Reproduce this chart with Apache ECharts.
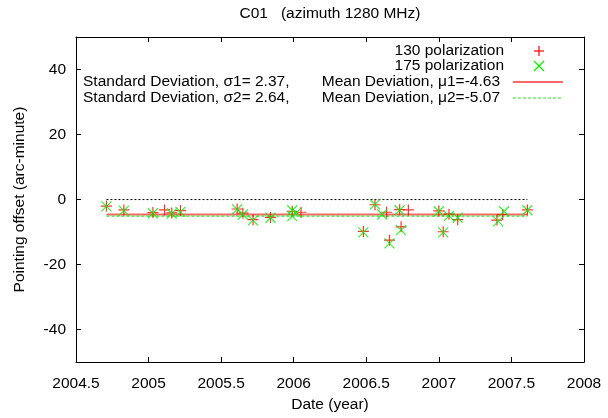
<!DOCTYPE html>
<html>
<head>
<meta charset="utf-8">
<script src="https://cdn.jsdelivr.net/npm/echarts@6/dist/echarts.min.js"></script>
<style>html,body{margin:0;padding:0;background:#fff}#c{width:608px;height:418px}</style>
</head>
<body>
<div id="c"></div>
<script>
// ---- data ----
const dates130 = [2004.71, 2004.83, 2005.03, 2005.11, 2005.16, 2005.22, 2005.61, 2005.65, 2005.72, 2005.84, 2005.99, 2006.05, 2006.48, 2006.56, 2006.64, 2006.66, 2006.73, 2006.74, 2006.79, 2007.00, 2007.03, 2007.07, 2007.13, 2007.40, 2007.44, 2007.61];
const offsets130 = [-2.0, -3.2, -4.0, -3.2, -4.1, -3.4, -2.9, -4.2, -6.2, -5.5, -3.6, -3.9, -9.8, -1.6, -3.9, -12.5, -3.1, -8.4, -3.2, -3.5, -9.9, -4.5, -6.2, -6.3, -4.6, -3.2];
const dates175 = [2004.71, 2004.83, 2005.03, 2005.16, 2005.22, 2005.61, 2005.65, 2005.72, 2005.84, 2005.99, 2005.99, 2006.02, 2006.48, 2006.56, 2006.61, 2006.66, 2006.73, 2006.74, 2007.00, 2007.03, 2007.07, 2007.13, 2007.41, 2007.45, 2007.61];
const offsets175 = [-2.1, -3.4, -4.2, -4.3, -3.8, -3.0, -4.6, -6.4, -5.6, -3.3, -5.1, -4.0, -10.1, -1.5, -4.6, -13.5, -3.3, -9.4, -3.6, -10.1, -5.0, -5.6, -6.7, -3.6, -3.3];
const mean1 = -4.63, mean2 = -5.07;
const sigma1 = 2.37, sigma2 = 2.64;
const xTicks = [2004.5, 2005, 2005.5, 2006, 2006.5, 2007, 2007.5, 2008];
const yTicks = [-40, -20, 0, 20, 40];
const seriesNames = ['130 polarization', '175 polarization'];

// ---- chart ----
const FONT = "'Liberation Sans', Arial, Helvetica, sans-serif";
const FS = 15.5;
const chart = echarts.init(document.getElementById('c'), null, {renderer: 'canvas'});
const allDates = dates130.concat(dates175);
const x0 = Math.min.apply(null, allDates), x1 = Math.max.apply(null, allDates);
const PLUS = 'path://M5,0L5,10M0,5L10,5';
const CROSS = 'path://M0,0L10,10M10,0L0,10';
const tickStyle = {show: true, inside: true, length: 5, lineStyle: {color: '#000', width: 1}};

const GL = 76, GR = 584, GT = 37, GB = 364;
const legendX = 539;

chart.setOption({
  animation: false,
  grid: {left: GL, right: 608 - GR, top: GT, bottom: 418 - GB, containLabel: false},
  xAxis: [{
    type: 'value', min: 2004.5, max: 2008, interval: 0.5, position: 'bottom',
    name: 'Date (year)', nameLocation: 'middle', nameGap: 34,
    nameTextStyle: {fontFamily: FONT, fontSize: FS, color: '#000'},
    axisLine: {show: true, onZero: false, lineStyle: {color: '#000', width: 1}},
    axisTick: Object.assign({customValues: xTicks}, tickStyle),
    axisLabel: {customValues: xTicks, margin: 14, fontFamily: FONT, fontSize: FS, color: '#000', formatter: v => String(v)},
    splitLine: {show: false}
  }, {
    type: 'value', min: 2004.5, max: 2008, interval: 0.5, position: 'top',
    axisLine: {show: true, onZero: false, lineStyle: {color: '#000', width: 1}},
    axisTick: Object.assign({customValues: xTicks}, tickStyle),
    axisLabel: {show: false}, splitLine: {show: false}
  }],
  yAxis: [{
    type: 'value', min: -50, max: 50, interval: 10, position: 'left',
    name: 'Pointing offset (arc-minute)', nameLocation: 'middle', nameGap: 48, nameRotate: 90,
    nameTextStyle: {fontFamily: FONT, fontSize: FS, color: '#000'},
    axisLine: {show: true, onZero: false, lineStyle: {color: '#000', width: 1}},
    axisTick: Object.assign({customValues: yTicks}, tickStyle),
    axisLabel: {customValues: yTicks, margin: 10, fontFamily: FONT, fontSize: FS, color: '#000'},
    splitLine: {show: false}
  }, {
    type: 'value', min: -50, max: 50, interval: 10, position: 'right',
    axisLine: {show: true, onZero: false, lineStyle: {color: '#000', width: 1}},
    axisTick: Object.assign({customValues: yTicks}, tickStyle),
    axisLabel: {show: false}, splitLine: {show: false}
  }],
  series: [
    {
      type: 'line', name: 'zero', xAxisIndex: 0, yAxisIndex: 0,
      data: [[x0, 0], [x1, 0]], symbol: 'none', silent: true,
      lineStyle: {color: '#000', width: 1, type: [2, 2]}, z: 1
    },
    {
      type: 'line', name: 'Mean Deviation, \u03bc1=' + mean1.toFixed(2), xAxisIndex: 0, yAxisIndex: 0,
      data: [[x0, mean1], [x1, mean1]], symbol: 'none', silent: true,
      lineStyle: {color: 'rgba(255,0,0,0.6)', width: 2}, z: 2
    },
    {
      type: 'line', name: 'Mean Deviation, \u03bc2=' + mean2.toFixed(2), xAxisIndex: 0, yAxisIndex: 0,
      data: [[x0, mean2], [x1, mean2]], symbol: 'none', silent: true,
      lineStyle: {color: '#33dd33', width: 1.2, type: [3, 2]}, z: 2
    },
    {
      type: 'scatter', name: seriesNames[0], xAxisIndex: 0, yAxisIndex: 0,
      data: dates130.map((d, i) => [d, offsets130[i]]),
      symbol: PLUS, symbolSize: 11,
      itemStyle: {color: 'transparent', borderColor: '#ff0000', borderWidth: 1.2}, z: 3
    },
    {
      type: 'scatter', name: seriesNames[1], xAxisIndex: 0, yAxisIndex: 0,
      data: dates175.map((d, i) => [d, offsets175[i]]),
      symbol: CROSS, symbolSize: 10,
      itemStyle: {color: 'transparent', borderColor: '#00ee00', borderWidth: 1.2}, z: 4
    }
  ],
  graphic: [
    {type: 'text', x: 330, y: 14, style: {text: 'C01   (azimuth 1280 MHz)', fontFamily: FONT, fontSize: FS, fill: '#000', align: 'center', verticalAlign: 'middle'}},
    {type: 'text', x: 504, y: 51, style: {text: seriesNames[0], fontFamily: FONT, fontSize: FS, fill: '#000', align: 'right', verticalAlign: 'middle'}},
    {type: 'text', x: 504, y: 66, style: {text: seriesNames[1], fontFamily: FONT, fontSize: FS, fill: '#000', align: 'right', verticalAlign: 'middle'}},
    {type: 'text', x: 83, y: 82, style: {text: 'Standard Deviation, \u03c31= ' + sigma1.toFixed(2) + ',', fontFamily: FONT, fontSize: FS, fill: '#000', align: 'left', verticalAlign: 'middle'}},
    {type: 'text', x: 83, y: 98, style: {text: 'Standard Deviation, \u03c32= ' + sigma2.toFixed(2) + ',', fontFamily: FONT, fontSize: FS, fill: '#000', align: 'left', verticalAlign: 'middle'}},
    {type: 'text', x: 500, y: 82, style: {text: 'Mean Deviation, \u03bc1=' + mean1.toFixed(2), fontFamily: FONT, fontSize: FS, fill: '#000', align: 'right', verticalAlign: 'middle'}},
    {type: 'text', x: 500, y: 98, style: {text: 'Mean Deviation, \u03bc2=' + mean2.toFixed(2), fontFamily: FONT, fontSize: FS, fill: '#000', align: 'right', verticalAlign: 'middle'}},
    {type: 'polyline', shape: {points: [[legendX - 5, 51], [legendX + 5, 51]]}, style: {stroke: '#ff0000', lineWidth: 1.2}},
    {type: 'polyline', shape: {points: [[legendX, 46], [legendX, 56]]}, style: {stroke: '#ff0000', lineWidth: 1.2}},
    {type: 'polyline', shape: {points: [[legendX - 5, 61], [legendX + 5, 71]]}, style: {stroke: '#00ee00', lineWidth: 1.2}},
    {type: 'polyline', shape: {points: [[legendX + 5, 61], [legendX - 5, 71]]}, style: {stroke: '#00ee00', lineWidth: 1.2}},
    {type: 'polyline', shape: {points: [[513, 82], [563, 82]]}, style: {stroke: 'rgba(255,0,0,0.6)', lineWidth: 2}},
    {type: 'polyline', shape: {points: [[513, 98], [563, 98]]}, style: {stroke: '#33dd33', lineWidth: 1.2, lineDash: [3, 2]}}
  ]
});
</script>
</body>
</html>
